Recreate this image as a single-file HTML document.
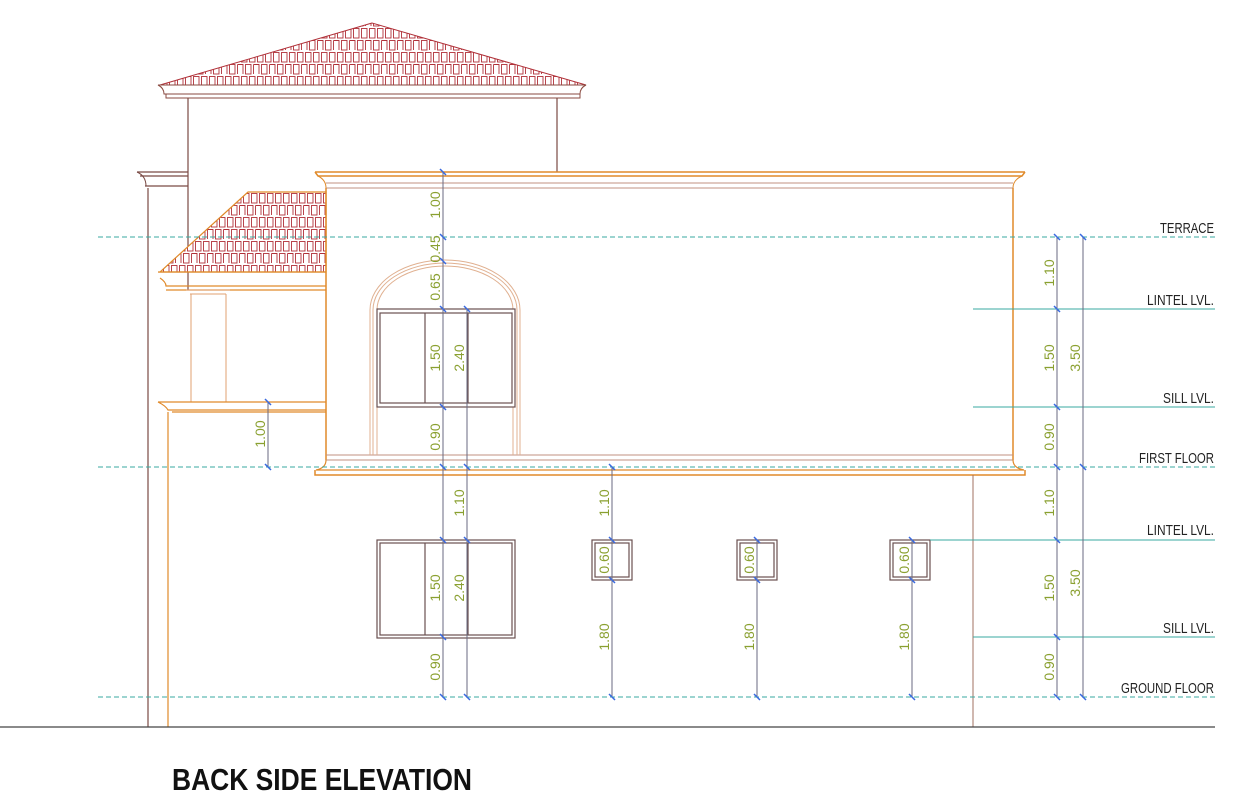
<!DOCTYPE html>
<html><head><meta charset="utf-8"><style>
html,body{margin:0;padding:0;background:#fff;width:1240px;height:800px;overflow:hidden}
svg{display:block}
text{font-family:"Liberation Sans",sans-serif}
.lbl{font-size:15px;fill:#222}
.dim{font-size:14px;fill:#8aa030}
</style></head><body>
<svg width="1240" height="800" viewBox="0 0 1240 800" xmlns="http://www.w3.org/2000/svg">
<defs>
<pattern id="tile" x="0" y="3" width="16" height="24" patternUnits="userSpaceOnUse">
<rect width="16" height="24" fill="#fff"/>
<g stroke="#b03038" stroke-width="0.9" fill="none">
<rect x="1.5" y="1.5" width="5.5" height="9.5"/>
<rect x="9.5" y="1.5" width="5.5" height="9.5"/>
<rect x="5.5" y="13.5" width="5.5" height="9.5"/>
<path d="M0 13.5 H3 V23 M13.5 13.5 H16 M13.5 13.5 V23"/>
</g>
</pattern>
<pattern id="tile2" x="2" y="0" width="16" height="24" patternUnits="userSpaceOnUse">
<rect width="16" height="24" fill="#fff"/>
<g stroke="#b03038" stroke-width="0.9" fill="none">
<rect x="1.5" y="1.5" width="5.5" height="9.5"/>
<rect x="9.5" y="1.5" width="5.5" height="9.5"/>
<rect x="5.5" y="13.5" width="5.5" height="9.5"/>
<path d="M0 13.5 H3 V23 M13.5 13.5 H16 M13.5 13.5 V23"/>
</g>
</pattern>
</defs>

<!-- top roof -->
<polygon points="372,23 160,85 586,85" fill="url(#tile)" stroke="#b03038" stroke-width="1"/>
<path d="M158 85 H586 Q580 88 580 94 H164 Q164 88 158 85 Z" fill="none" stroke="#8a4a40"/>
<rect x="166" y="94" width="414" height="4" fill="none" stroke="#8a4a40"/>
<!-- upper block walls -->
<path d="M188 98 V290 M557 98 V172" stroke="#7a4a44" stroke-width="1.2" fill="none"/>
<!-- left cornice & outer wall -->
<path d="M137 172 H188 M140 176 H188 M145 186 H188 M148 188 V727" stroke="#7a4a44" stroke-width="1.2" fill="none"/>
<path d="M137 172 Q146 176 146 186" stroke="#7a4a44" fill="none"/>

<!-- lean-to roof -->
<polygon points="248,192 326,192 326,272 160,272" fill="url(#tile2)" stroke="#e08a2a" stroke-width="1.2"/>
<path d="M158 272 H326 M160 278 Q166 282 166 286 H326 M166 290 H326" stroke="#e08a2a" stroke-width="1.2" fill="none"/>
<!-- column -->
<path d="M186 290 H230 M190 294 H226 M191 294 V402 M226 294 V402" stroke="#e0a070" stroke-width="1" fill="none"/>
<!-- balcony slab -->
<path d="M158 402 H326 M158 402 Q166 406 168 410 H326 M172 412 H326" stroke="#e08a2a" stroke-width="1.2" fill="none"/>
<path d="M168 412 V727" stroke="#e08a2a" stroke-width="1.2"/>

<!-- main first floor block -->
<path d="M315 172 H1025 M315 172 L318 176 H1022 L1025 172" stroke="#e08a2a" stroke-width="1.5" fill="none"/>
<path d="M318 176 Q326 180 326 188 M1022 176 Q1013 180 1013 188" stroke="#e08a2a" fill="none"/>
<path d="M326 183 H1013 M326 188 H1013" stroke="#c09080" stroke-width="1" fill="none"/>
<path d="M326 188 V460 M1013 188 V460" stroke="#e08a2a" stroke-width="1.5"/>
<path d="M326 455 H1013 M326 460 H1013" stroke="#c09080" stroke-width="1"/>
<path d="M326 460 Q326 468 316 470 H1024 Q1013 468 1013 460" stroke="#e08a2a" stroke-width="1.2" fill="none"/>
<path d="M315 470 V475 H1025 V470" stroke="#e08a2a" stroke-width="1.5" fill="none"/>
<!-- ground floor right wall -->
<path d="M973 475 V727" stroke="#a07060" stroke-width="1"/>
<!-- ground line -->
<path d="M0 727 H1215" stroke="#444" stroke-width="1.2"/>

<!-- arch window -->
<g stroke="#e0b090" stroke-width="1" fill="none">
<path d="M370 455 V310 A75 50 0 0 1 520 310 V455"/>
<path d="M373 455 V310 A72 47 0 0 1 517 310 V455"/>
<path d="M377 455 V310 A68 44 0 0 1 513 310 V455"/>
</g>
<g stroke="#6a5050" stroke-width="1.2" fill="none">
<rect x="377" y="309" width="138" height="98" fill="#fff"/>
<rect x="380" y="313" width="132" height="90"/>
<path d="M425 313 V403 M468 313 V403"/>
<rect x="377" y="540" width="138" height="98"/>
<rect x="380" y="543" width="132" height="92"/>
<path d="M425 543 V635 M468 543 V635"/>
<rect x="592" y="540" width="40" height="40"/>
<rect x="595" y="543" width="34" height="34"/>
<rect x="737" y="540" width="40" height="40"/>
<rect x="740" y="543" width="34" height="34"/>
<rect x="890" y="540" width="40" height="40"/>
<rect x="893" y="543" width="34" height="34"/>
</g>

<!-- level lines -->
<g stroke="#3aa8a0" stroke-width="1" fill="none">
<path d="M98 237 H1215 M98 467 H1215 M98 697 H1215" stroke-dasharray="5,3"/>
<path d="M973 309 H1215 M973 407 H1215 M930 540 H1215 M973 637 H1215"/>
</g>

<!-- dimension lines -->
<g stroke="#6a6a80" stroke-width="1" fill="none">
<path d="M443 172 V697 M467 309 V697 M612 467 V697 M757 540 V697 M912 540 V697 M268 402 V467 M1057 237 V697 M1083 237 V697"/>
</g>
<g stroke="#3a6ae0" stroke-width="1.5">
<path d="M440 169 l6 6 M440 234 l6 6 M440 258 l6 6 M440 306 l6 6 M440 404 l6 6 M440 464 l6 6 M440 537 l6 6 M440 634 l6 6 M440 694 l6 6
M464 306 l6 6 M464 464 l6 6 M464 537 l6 6 M464 694 l6 6
M609 464 l6 6 M609 537 l6 6 M609 577 l6 6 M609 694 l6 6
M754 537 l6 6 M754 577 l6 6 M754 694 l6 6
M909 537 l6 6 M909 577 l6 6 M909 694 l6 6
M265 399 l6 6 M265 464 l6 6
M1054 234 l6 6 M1054 306 l6 6 M1054 404 l6 6 M1054 464 l6 6 M1054 537 l6 6 M1054 634 l6 6 M1054 694 l6 6
M1080 234 l6 6 M1080 464 l6 6 M1080 694 l6 6"/>
</g>

<!-- dimension texts -->
<g class="dim">
<text transform="translate(440,205) rotate(-90)" text-anchor="middle">1.00</text>
<text transform="translate(440,249) rotate(-90)" text-anchor="middle">0.45</text>
<text transform="translate(440,287) rotate(-90)" text-anchor="middle">0.65</text>
<text transform="translate(440,358) rotate(-90)" text-anchor="middle">1.50</text>
<text transform="translate(464,358) rotate(-90)" text-anchor="middle">2.40</text>
<text transform="translate(440,437) rotate(-90)" text-anchor="middle">0.90</text>
<text transform="translate(464,503) rotate(-90)" text-anchor="middle">1.10</text>
<text transform="translate(440,588) rotate(-90)" text-anchor="middle">1.50</text>
<text transform="translate(464,588) rotate(-90)" text-anchor="middle">2.40</text>
<text transform="translate(440,667) rotate(-90)" text-anchor="middle">0.90</text>
<text transform="translate(265,434) rotate(-90)" text-anchor="middle">1.00</text>
<text transform="translate(609,503) rotate(-90)" text-anchor="middle">1.10</text>
<text transform="translate(609,560) rotate(-90)" text-anchor="middle">0.60</text>
<text transform="translate(609,637) rotate(-90)" text-anchor="middle">1.80</text>
<text transform="translate(754,560) rotate(-90)" text-anchor="middle">0.60</text>
<text transform="translate(754,637) rotate(-90)" text-anchor="middle">1.80</text>
<text transform="translate(909,560) rotate(-90)" text-anchor="middle">0.60</text>
<text transform="translate(909,637) rotate(-90)" text-anchor="middle">1.80</text>
<text transform="translate(1054,273) rotate(-90)" text-anchor="middle">1.10</text>
<text transform="translate(1054,358) rotate(-90)" text-anchor="middle">1.50</text>
<text transform="translate(1080,358) rotate(-90)" text-anchor="middle">3.50</text>
<text transform="translate(1054,437) rotate(-90)" text-anchor="middle">0.90</text>
<text transform="translate(1054,503) rotate(-90)" text-anchor="middle">1.10</text>
<text transform="translate(1054,588) rotate(-90)" text-anchor="middle">1.50</text>
<text transform="translate(1080,583) rotate(-90)" text-anchor="middle">3.50</text>
<text transform="translate(1054,667) rotate(-90)" text-anchor="middle">0.90</text>
</g>

<!-- level labels -->
<g class="lbl" text-anchor="end">
<text x="1214" y="233" textLength="54" lengthAdjust="spacingAndGlyphs">TERRACE</text>
<text x="1214" y="305" textLength="67" lengthAdjust="spacingAndGlyphs">LINTEL LVL.</text>
<text x="1214" y="403" textLength="51" lengthAdjust="spacingAndGlyphs">SILL LVL.</text>
<text x="1214" y="463" textLength="75" lengthAdjust="spacingAndGlyphs">FIRST FLOOR</text>
<text x="1214" y="535" textLength="67" lengthAdjust="spacingAndGlyphs">LINTEL LVL.</text>
<text x="1214" y="633" textLength="51" lengthAdjust="spacingAndGlyphs">SILL LVL.</text>
<text x="1214" y="693" textLength="93" lengthAdjust="spacingAndGlyphs">GROUND FLOOR</text>
</g>

<text x="172" y="790" font-size="31" font-weight="bold" fill="#111" textLength="300" lengthAdjust="spacingAndGlyphs">BACK SIDE ELEVATION</text>
</svg>
</body></html>
